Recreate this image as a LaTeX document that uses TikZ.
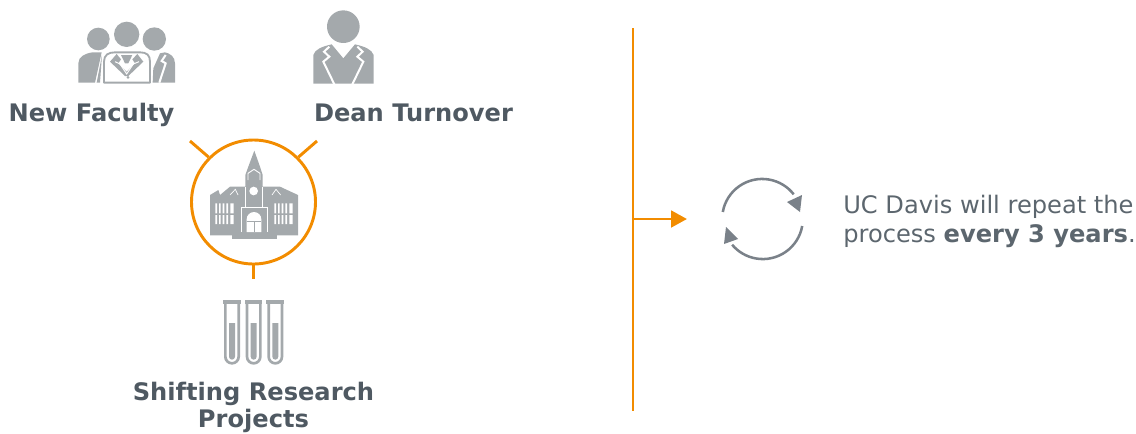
\documentclass[tikz,border=0pt]{standalone}
\usepackage{fontspec}
\setmainfont{DejaVu Sans}
\usetikzlibrary{arrows.meta}
\definecolor{orng}{HTML}{F28C00}
\definecolor{icon}{HTML}{A4A9AC}
\definecolor{cyc}{HTML}{7A8189}
\definecolor{lab}{HTML}{4F5962}
\definecolor{body}{HTML}{5C666E}
\tikzset{
  orangeline/.style={draw=orng,line width=2.2pt},
  stub/.style={draw=orng,line width=2.2pt},
  heading/.style={font=\fontsize{18.1}{18}\selectfont\bfseries,text=lab,anchor=base,inner sep=0pt},
  bodytext/.style={font=\fontsize{18.1}{18}\selectfont,text=body,anchor=base west,inner sep=0pt},
  cycarc/.style={draw=cyc,line width=1.9pt},
  zoomed/.style={x=0.25pt,y=-0.25pt},
  cut/.style={draw=white,line width=1.5pt,line join=miter}
}
\begin{document}
\begin{tikzpicture}[x=0.75pt,y=-0.75pt]
\useasboundingbox (0,0) rectangle (1136,433);

% New Faculty icon
\begin{scope}[shift={(60,0)},zoomed]
\fill[icon] (115,117) circle (34);
\fill[icon] (200,103) circle (38);
\fill[icon] (283,117) circle (35);
\fill[icon] (55,248) -- (55,190) .. controls (55,170) and (75,160) .. (98,157) -- (125,157) -- (105,248) -- cycle;
\fill[icon] (126,165) -- (120,248) -- (110,248) -- cycle;
\fill[icon] (345,248) -- (345,190) .. controls (345,170) and (330,160) .. (315,157) -- (300,160) -- (280,205) -- (278,248) -- cycle;
\draw[cut] (317,165) -- (305,183) -- (317,190) -- (298,248);
\draw[icon,line width=1.4pt,line join=round] (132,248) -- (132,185) .. controls (132,165) and (145,157) .. (165,157) -- (240,157) .. controls (260,157) and (270,165) .. (270,185) -- (270,248) -- cycle;
\fill[icon] (150,185) -- (170,162) -- (183,178) -- (175,190) -- (200,215) -- (225,190) -- (217,178) -- (232,162) -- (250,185) -- (205,228) -- (195,228) -- cycle;
\fill[icon] (183,165) -- (217,165) -- (205,190) -- (195,190) -- cycle;
\draw[white,line width=0.7pt] (165,185) -- (180,192) -- (200,222) -- (220,192) -- (237,185);
\fill[icon] (204,232) circle (4.5);
\end{scope}

% Dean icon
\begin{scope}[shift={(60,0)},zoomed]
\fill[icon] (850,80) circle (49);
\fill[icon] (760,251) -- (760,165) .. controls (765,148) and (785,140) .. (815,133) -- (850,175) -- (885,133) .. controls (915,140) and (935,148) .. (941,165) -- (941,251) -- cycle;
\draw[cut] (808,140) -- (792,155) -- (808,170) -- (790,185) -- (824,255);
\draw[cut] (892,140) -- (908,155) -- (892,170) -- (910,185) -- (876,255);
\end{scope}

% Building icon
\begin{scope}[shift={(170,130)},zoomed]
\fill[icon] (120,316) -- (120,195) -- (145,180) -- (150,195) -- (180,170) -- (226,170) -- (226,135) -- (235,110) -- (253,62) -- (270,110) -- (278,135) -- (278,170) -- (330,170) -- (384,195) -- (384,316) -- cycle;
\fill[icon] (185,326) rectangle (320,306);
\fill[white] (136,220) rectangle (141,250) (147,220) rectangle (152,250) (158,220) rectangle (163,250) (169,220) rectangle (174,250) (181,220) rectangle (191,250);
\fill[white] (136,255) rectangle (141,282) (147,255) rectangle (152,282) (158,255) rectangle (163,282) (169,255) rectangle (174,282) (181,255) rectangle (191,282);
\fill[white] (313,220) rectangle (318,250) (324,220) rectangle (329,250) (335,220) rectangle (340,250) (346,220) rectangle (351,250) (358,220) rectangle (368,250);
\fill[white] (313,255) rectangle (318,282) (324,255) rectangle (329,282) (335,255) rectangle (340,282) (346,255) rectangle (351,282) (358,255) rectangle (368,282);
\draw[white,line width=0.5pt] (213,306) -- (213,233) -- (293,233) -- (293,306);
\draw[white,line width=0.5pt] (226,233) -- (226,170) (278,233) -- (278,170);
\fill[white] (251,183) circle (13);
\draw[white,line width=0.7pt] (234,150) -- (234,130) -- (252,118) -- (270,130) -- (270,150);
\fill[white] (230,306) -- (230,268) arc[start angle=180,end angle=360,radius=22] -- (274,306) -- cycle;
\draw[icon,line width=0.6pt] (230,275) -- (274,275) (252,275) -- (252,306);
\draw[white,line width=0.5pt] (180,195) -- (196,178) -- (204,195) (318,178) -- (306,195) (318,178) -- (332,195);
\end{scope}

% Test tubes icon
\begin{scope}[shift={(200,260)},zoomed]
\foreach \ox in {0,65,130}{
  \begin{scope}[shift={(\ox,0)}]
  \fill[icon] (69,120) rectangle (122,132);
  \draw[icon,line width=2pt] (76,130) -- (76,290) arc[start angle=180,end angle=0,radius=20] -- (116,130);
  \fill[icon] (87,189) -- (105,189) -- (105,290) arc[start angle=0,end angle=180,radius=9] -- cycle;
  \end{scope}
}
\end{scope}

% Orange circle and stubs
\node[circle,draw=orng,line width=2.2pt,minimum size=93pt,inner sep=0pt] (campus) at (253.5,202) {};
\coordinate (ul) at (190,141);
\coordinate (ur) at (317,141);
\coordinate (dn) at (253.5,279);
\draw[stub] (campus.135) -- (ul);
\draw[stub] (campus.45) -- (ur);
\draw[stub] (campus.270) -- (dn);

% Labels
\node[heading] (nf) at (91.5,121) {New Faculty};
\node[heading] (dt) at (413.5,121) {Dean Turnover};
\node[heading] (sr1) at (253.5,400) {Shifting Research};
\node[heading] (sr2) at (253.5,427) {Projects};

% Divider and arrow
\coordinate (vt) at (633,28);
\coordinate (vb) at (633,411);
\coordinate (vm) at (633,219);
\coordinate (ah) at (687,219);
\draw[orangeline] (vt) -- (vb);
\draw[orangeline,-{Triangle[length=12pt,width=12.5pt]}] (vm) -- (ah);

% Cycle icon
\coordinate (cc) at (762.5,219);
\draw[cycarc] (722.8,212) arc[start angle=190,end angle=322,radius=40];
\draw[cycarc] (802.2,226) arc[start angle=10,end angle=140,radius=40];
\fill[cyc] (802,195) -- (787,202) -- (800,212) -- cycle;
\fill[cyc] (726,227) -- (738,239) -- (724,244) -- cycle;

% Text
\node[bodytext] (t1) at (843,213) {UC Davis will repeat the};
\node[bodytext] (t2) at (843,242) {process \textbf{every 3 years}.};
\end{tikzpicture}
\end{document}
